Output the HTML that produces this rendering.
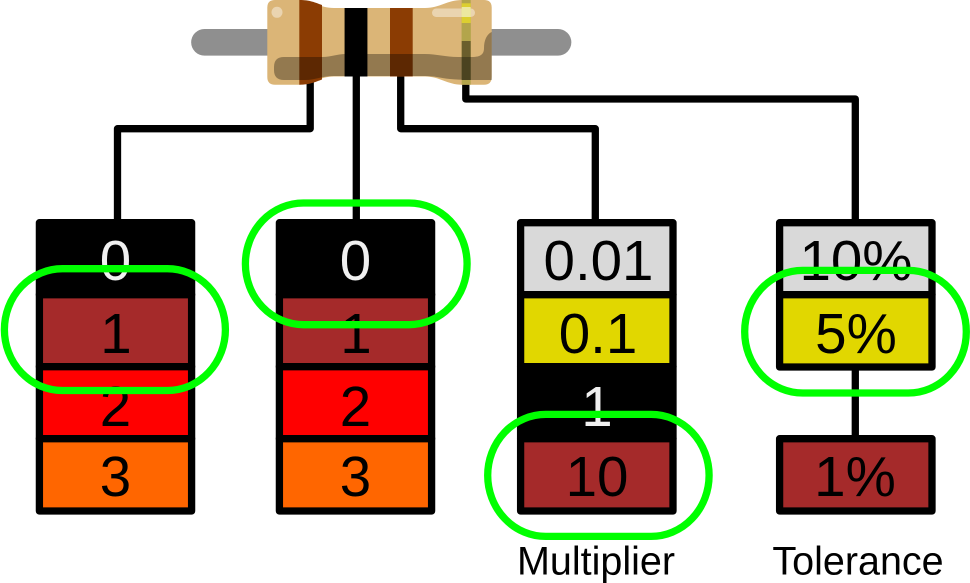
<!DOCTYPE html>
<html>
<head>
<meta charset="utf-8">
<style>
html,body{margin:0;padding:0;background:#fff;width:970px;height:583px;overflow:hidden}
svg{display:block}
text{font-family:"Liberation Sans",Arial,sans-serif}
.d{font-size:56.5px;text-anchor:middle;fill:#000}
.w{font-size:56.5px;text-anchor:middle;fill:#f0f0f0}
.l{font-size:39.5px;text-anchor:middle;fill:#000}
.b{stroke:#000;stroke-width:7.3;stroke-linejoin:round}
.c{fill:none;stroke:#000;stroke-width:7.3;stroke-linejoin:round}
.g{fill:none;stroke:#00ff00;stroke-width:7.3}
</style>
</head>
<body>
<svg width="970" height="583" viewBox="0 0 970 583" xmlns="http://www.w3.org/2000/svg">
<rect width="970" height="583" fill="#fff"/>

<!-- connectors -->
<path class="c" d="M310.2 80V128.7H117.5V222"/>
<path class="c" d="M356.3 70V222"/>
<path class="c" d="M400.7 70V128.7H595.3V222"/>
<path class="c" d="M465.8 80V99H855.3V222"/>
<path class="c" d="M855.3 366V438"/>

<!-- leads -->
<line x1="204.5" y1="42.3" x2="558" y2="42.3" stroke="#8f8f8f" stroke-width="26.7" stroke-linecap="round"/>

<!-- resistor body -->
<path d="M275 0H299C312 0 319 8 334 8H425C440 8 447 0 462 0H484Q491.7 0 491.7 7.5V77Q491.7 84.7 484 84.7H462C447 84.7 440 76.5 425 76.5H334C319 76.5 312 84.7 299 84.7H275Q267.3 84.7 267.3 77V7.5Q267.3 0 275 0Z" fill="#dbb577"/>

<!-- bands -->
<path d="M299.3 0C310 0 315 2.5 322 5V79.5C315 82 310 84.7 299.3 84.7Z" fill="#8b3c03"/>
<rect x="344.7" y="8" width="22.6" height="68.5" fill="#000"/>
<rect x="390" y="8" width="22.7" height="68.5" fill="#8b3c03"/>
<rect x="461.7" y="0" width="9" height="84.7" fill="#b3a54b"/>
<rect x="461.7" y="3.3" width="9" height="20" fill="#dccf30"/>

<!-- shadow -->
<path d="M284 57H322C332 57 336 54 346 54H425C437 54 445 57 458 57H472C481 57 484 54 484 48C484 40 487 34 491.7 32V80H484C472 80 462 80 450 79C440 78 435 76 425 76H334C322 76 315 80 305 80H284Q274 80 274 70V67Q274 57 284 57Z" fill="#000" fill-opacity="0.33"/>
<rect x="344.7" y="8" width="22.6" height="68.5" fill="#000"/>
<rect x="461.7" y="23" width="9" height="18" fill="#b3a54b"/>
<rect x="461.7" y="41" width="9" height="16" fill="#6a5e2c"/>
<rect x="461.7" y="57" width="9" height="23" fill="#4b4320"/>

<!-- highlights -->
<circle cx="277" cy="12.3" r="5.5" fill="#fff" fill-opacity="0.42"/>
<rect x="432" y="8.5" width="43" height="8.5" rx="4.2" fill="#fff" fill-opacity="0.42"/>
<rect x="461.7" y="7" width="9" height="10" fill="#ece8a0"/>

<!-- column 1 -->
<rect class="b" x="39.4" y="222.7" width="152.2" height="72" fill="#000"/>
<rect class="b" x="39.4" y="294.7" width="152.2" height="72" fill="#a52a2a"/>
<rect class="b" x="39.4" y="366.7" width="152.2" height="72" fill="#ff0000"/>
<rect class="b" x="39.4" y="438.7" width="152.2" height="72.3" fill="#ff6600"/>
<text class="w" x="115.5" y="280">0</text>
<text class="d" x="116" y="353">1</text>
<text class="d" x="115.5" y="426">2</text>
<text class="d" x="115.5" y="496">3</text>

<!-- column 2 -->
<rect class="b" x="279.4" y="222.7" width="152.2" height="72" fill="#000"/>
<rect class="b" x="279.4" y="294.7" width="152.2" height="72" fill="#a52a2a"/>
<rect class="b" x="279.4" y="366.7" width="152.2" height="72" fill="#ff0000"/>
<rect class="b" x="279.4" y="438.7" width="152.2" height="72.3" fill="#ff6600"/>
<text class="w" x="355.5" y="280">0</text>
<text class="d" x="356" y="353">1</text>
<text class="d" x="355.5" y="426">2</text>
<text class="d" x="355.5" y="496">3</text>

<!-- column 3 -->
<rect class="b" x="520.6" y="222.7" width="152.4" height="72" fill="#d9d9d9"/>
<rect class="b" x="520.6" y="294.7" width="152.4" height="72" fill="#e1d700"/>
<rect class="b" x="520.6" y="366.7" width="152.4" height="72" fill="#000"/>
<rect class="b" x="520.6" y="438.7" width="152.4" height="72.3" fill="#a52a2a"/>
<text class="d" x="598.5" y="280">0.01</text>
<text class="d" x="598" y="353">0.1</text>
<text class="w" x="597" y="426">1</text>
<text class="d" x="597" y="496">10</text>

<!-- column 4 -->
<rect class="b" x="779.6" y="222.7" width="152.4" height="72" fill="#d9d9d9"/>
<rect class="b" x="779.6" y="294.7" width="152.4" height="72.3" fill="#e1d700"/>
<rect class="b" x="779.6" y="438.7" width="152.4" height="72.3" fill="#a52a2a"/>
<text class="d" x="856" y="280">10%</text>
<text class="d" x="856" y="353">5%</text>
<text class="d" x="855" y="496">1%</text>

<!-- labels -->
<text class="l" x="596" y="574.5">Multiplier</text>
<text class="l" x="858" y="574.5">Tolerance</text>

<!-- green outlines -->
<rect class="g" x="4.4" y="268.7" width="221" height="121.8" rx="58" ry="60.9"/>
<rect class="g" x="245.4" y="203" width="221.7" height="121.7" rx="58" ry="60.8"/>
<rect class="g" x="487.7" y="414.4" width="221.4" height="122" rx="58" ry="61"/>
<rect class="g" x="744.7" y="270.4" width="221.6" height="122.6" rx="58" ry="61"/>
</svg>
</body>
</html>
